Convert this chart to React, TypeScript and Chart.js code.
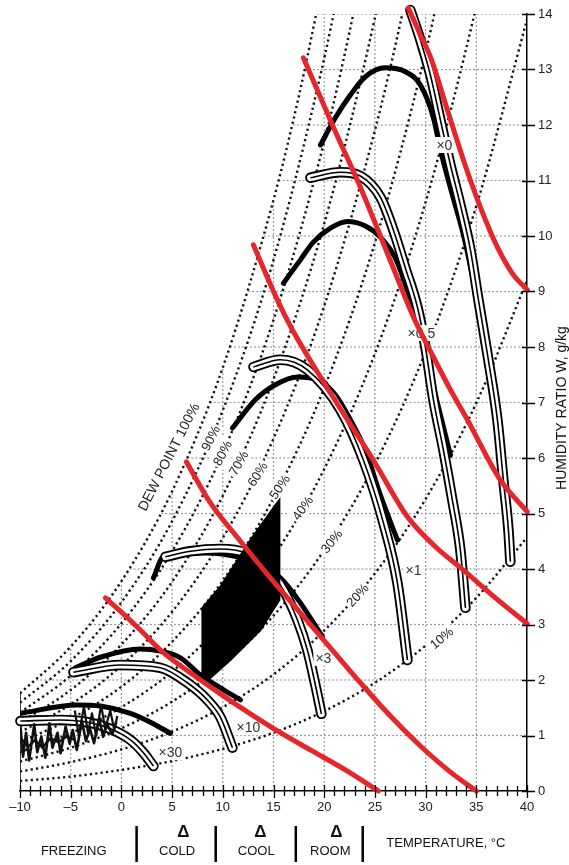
import React, { useEffect, useRef } from 'react';
import { Chart, registerables } from 'chart.js';

Chart.register(...registerables);

type P = [number, number];

// ---------- axes ----------
const X_MIN = -10;
const X_MAX = 40;
const Y_MIN = 0;
const Y_MAX = 14;

// ---------- grid (clipped by the saturation curve) ----------
const GRID_V_T = [-5, 0, 5, 10, 15, 20, 25, 30, 35];
const GRID_V_TOP = [2.6, 3.78, 5.4, 7.63, 10.65, 14, 14, 14, 14];
const GRID_H_W = [1, 2, 3, 4, 5, 6, 7, 8, 9, 10, 11, 12, 13, 14];
const GRID_H_START = [-10, -8.4, -3.1, 0.8, 3.9, 6.5, 8.7, 10.7, 12.5, 14.05, 15.5, 16.9, 18.1, 19.3];
const LEFT_EDGE: P[] = [[-10, 0], [-10, 1.76]];

// ---------- relative humidity curves ----------
const RH100: P[] = [[-10, 1.76], [-5, 2.6], [0, 3.78], [5, 5.4], [10, 7.63], [15, 10.65], [17.5, 12.52], [20, 14.7]];
const RH90: P[] = [[-10, 1.59], [-5, 2.34], [0, 3.4], [5, 4.86], [10, 6.86], [15, 9.57], [20, 13.2], [22.5, 15.44]];
const RH80: P[] = [[-10, 1.41], [-5, 2.08], [0, 3.02], [5, 4.32], [10, 6.09], [15, 8.49], [20, 11.7], [22.5, 13.68], [25, 15.97]];
const RH70: P[] = [[-10, 1.23], [-5, 1.82], [0, 2.64], [5, 3.77], [10, 5.32], [15, 7.42], [20, 10.22], [25, 13.93], [27.5, 16.2]];
const RH60: P[] = [[-10, 1.06], [-5, 1.56], [0, 2.26], [5, 3.23], [10, 4.56], [15, 6.35], [20, 8.74], [25, 11.9], [27.5, 13.83], [30, 16.05]];
const RH50: P[] = [[-10, 0.88], [-5, 1.3], [0, 1.88], [5, 2.69], [10, 3.79], [15, 5.28], [20, 7.26], [25, 9.88], [30, 13.31], [32.5, 15.39]];
const RH40: P[] = [[-10, 0.7], [-5, 1.04], [0, 1.51], [5, 2.15], [10, 3.03], [15, 4.22], [20, 5.8], [25, 7.88], [30, 10.61], [35, 14.14], [37.5, 16.26]];
const RH30: P[] = [[-10, 0.53], [-5, 0.78], [0, 1.13], [5, 1.61], [10, 2.27], [15, 3.16], [20, 4.34], [25, 5.89], [30, 7.92], [35, 10.54], [40, 13.9]];
const RH20: P[] = [[-10, 0.35], [-5, 0.52], [0, 0.75], [5, 1.07], [10, 1.51], [15, 2.1], [20, 2.89], [25, 3.92], [30, 5.26], [35, 6.99], [40, 9.2]];
const RH10: P[] = [[-10, 0.18], [-5, 0.26], [0, 0.38], [5, 0.54], [10, 0.76], [15, 1.05], [20, 1.44], [25, 1.95], [30, 2.62], [35, 3.48], [40, 4.57]];
const RH_CURVES = [RH100, RH90, RH80, RH70, RH60, RH50, RH40, RH30, RH20, RH10];

const RH_LABELS = ['DEW POINT 100%', '90%', '80%', '70%', '60%', '50%', '40%', '30%', '20%', '10%'];
const RH_LABEL_T = [4.64, 8.78, 9.96, 11.54, 13.41, 15.58, 17.85, 20.71, 23.27, 31.56];
const RH_LABEL_W = [6.02, 6.36, 6.09, 5.91, 5.71, 5.48, 5.1, 4.5, 3.53, 2.76];
const RH_LABEL_ANGLE = [-63, -63, -62, -60, -58, -55, -54, -52, -48, -40];

// ---------- black arcs ----------
const ARC_30: P[] = [[-9.96, 1.4], [-4.34, 1.55], [-2.07, 1.53], [0.89, 1.4], [2.86, 1.24], [4.83, 1.04]];
const ARC_10: P[] = [[-4.54, 2.22], [-2.07, 2.41], [1.87, 2.56], [3.85, 2.52], [5.82, 2.4], [7.79, 2.09], [9.76, 1.86], [11.74, 1.64]];
const ARC_3: P[] = [[3.16, 3.84], [4.14, 4.22], [8.48, 4.29], [11.44, 4.22], [13.71, 4.07], [15.68, 3.84], [17.65, 3.39], [19.82, 2.78]];
const ARC_1: P[] = [[10.95, 6.54], [13.21, 7.05], [15.19, 7.32], [17.36, 7.46], [19.33, 7.41], [21.1, 7.14], [22.58, 6.69], [24.06, 6.14], [25.54, 5.33], [27.22, 4.52]];
const ARC_05: P[] = [[15.98, 9.15], [17.65, 9.57], [18.93, 9.89], [20.61, 10.14], [22.29, 10.26], [24.06, 10.18], [25.54, 9.98], [27.02, 9.6], [28.5, 8.85], [29.49, 8.22], [30.97, 7.14], [32.45, 6.05]];
const ARC_0: P[] = [[19.63, 11.64], [21.1, 12.13], [22.58, 12.54], [24.06, 12.87], [26.04, 13.03], [28.01, 12.96], [29.49, 12.72], [30.77, 12.13], [31.46, 11.55], [32.64, 10.74], [33.73, 10.02], [35.11, 8.85], [36.39, 7.68]];
const ARCS = [ARC_30, ARC_10, ARC_3, ARC_1, ARC_05, ARC_0];

// ---------- tubes ----------
const TUBE_30: P[] = [[-9.96, 1.26], [-6.02, 1.28], [-3.06, 1.23], [-1.08, 1.12], [0.89, 0.92], [2.17, 0.69], [3.16, 0.45]];
const TUBE_10: P[] = [[-4.73, 2.14], [-0.1, 2.27], [3.85, 2.22], [6.51, 1.95], [8.48, 1.64], [9.76, 1.33], [10.95, 0.78]];
const TUBE_3: P[] = [[4.34, 4.22], [6.8, 4.32], [9.76, 4.36], [12.23, 4.29], [14.2, 4.04], [15.98, 3.62], [17.36, 3.08], [18.34, 2.54], [19.13, 1.91], [19.72, 1.39]];
const TUBE_1: P[] = [[13.02, 7.64], [15.68, 7.77], [18.34, 7.59], [21.6, 6.87], [23.87, 5.96], [25.84, 4.83], [27.22, 3.75], [28.21, 2.36]];
const TUBE_05: P[] = [[18.64, 11.05], [21.6, 11.15], [23.57, 11.08], [25.54, 10.7], [26.82, 10.11], [28.01, 9.42], [29.19, 8.72], [29.98, 8.0], [30.77, 7.05], [31.76, 6.14], [32.64, 5.24], [33.43, 4.34], [33.93, 3.3]];
const TUBE_0: P[] = [[28.5, 14.07], [29.49, 13.53], [30.47, 12.9], [31.46, 12.09], [32.45, 11.28], [33.43, 10.56], [34.42, 9.75], [35.21, 8.85], [36.19, 7.77], [37.08, 6.69], [37.67, 5.6], [38.17, 4.7], [38.36, 4.13]];
const TUBES = [TUBE_30, TUBE_10, TUBE_3, TUBE_1, TUBE_05, TUBE_0];

const MULT_LABELS = ['×30', '×10', '×3', '×1', '×0.5', '×0'];
const MULT_T = [4.83, 12.52, 19.92, 28.8, 29.59, 31.85];
const MULT_W = [0.7, 1.15, 2.4, 3.98, 8.25, 11.64];

// ---------- filled region and scribble ----------
const DIAMOND: P[] = [[7.99, 3.3], [9.76, 3.68], [12.72, 4.52], [15.19, 5.15], [15.58, 5.24], [15.58, 3.44], [13.71, 2.9], [10.75, 2.36], [8.78, 2.04], [7.99, 2.09], [7.99, 3.3]];
const SCRIBBLE_A: P[] = [[-9.96, 1.18], [-9.7, 0.62], [-9.4, 1.05], [-9.1, 0.55], [-8.6, 1.2], [-8.3, 0.7], [-7.9, 0.98], [-7.5, 0.6], [-7.1, 1.22], [-6.8, 0.78], [-6.3, 1.05], [-6.0, 0.68], [-5.5, 1.16], [-5.1, 0.85], [-4.8, 1.1], [-4.4, 0.74], [-3.9, 1.27], [-3.5, 0.9], [-3.1, 1.12], [-2.7, 0.86], [-2.2, 1.3], [-1.8, 0.98], [-1.4, 1.2], [-0.9, 1.02], [-0.5, 1.25]];
const SCRIBBLE_B: P[] = [[-4.6, 1.45], [-4.2, 1.0], [-3.7, 1.52], [-3.3, 1.05], [-2.9, 1.4], [-2.5, 1.0], [-2.0, 1.55], [-1.6, 1.12], [-1.1, 1.45], [-0.7, 1.1], [-0.4, 1.35]];
const SCRIBBLE_C: P[] = [[-9.9, 0.95], [-9.2, 0.8], [-8.5, 0.92], [-7.8, 0.78], [-7.0, 0.95], [-6.2, 0.88], [-5.4, 0.98], [-4.6, 0.92]];

// ---------- red curves ----------
const RED_1: P[] = [[-1.58, 3.48], [-0.1, 3.24], [1.87, 2.9], [3.85, 2.54], [6.8, 2.13], [9.76, 1.75], [12.72, 1.39], [15.68, 1.05], [18.64, 0.74], [22.09, 0.38], [25.35, 0]];
const RED_2: P[] = [[6.41, 5.93], [8.78, 5.19], [11.74, 4.5], [14.69, 3.84], [17.65, 3.21], [20.61, 2.58], [23.57, 1.95], [26.53, 1.35], [29.49, 0.81], [32.45, 0.34], [35.01, 0]];
const RED_3: P[] = [[13.02, 9.84], [15.38, 8.85], [16.86, 8.31], [19.63, 7.46], [22.29, 6.69], [24.85, 5.96], [28.21, 4.94], [30.97, 4.4], [33.73, 3.98], [36.88, 3.48], [40.04, 3.01]];
const RED_4: P[] = [[17.95, 13.21], [20.91, 11.96], [23.57, 10.88], [26.23, 9.69], [28.8, 8.54], [30.77, 7.82], [32.45, 7.23], [34.12, 6.69], [37.38, 5.6], [40.04, 5.03]];
const RED_5: P[] = [[28.3, 14.11], [29.49, 13.62], [30.47, 13.23], [32.15, 12.27], [33.73, 11.37], [35.4, 10.52], [37.08, 9.8], [38.66, 9.3], [40.04, 9.03]];
const REDS = [RED_1, RED_2, RED_3, RED_4, RED_5];

// ---------- bottom annotations ----------
const BAND_EDGES = [1.5, 9.3, 17.2, 23.8];
const BAND_NAMES = ['FREEZING', 'COLD', 'COOL', 'ROOM'];
const BAND_NAME_T = [-4.7, 5.5, 13.3, 20.6];
const BAND_DELTA_T = [6.1, 13.7, 21.2];
const AXIS_TITLE_X = 'TEMPERATURE, °C';
const AXIS_TITLE_X_T = 32;
const AXIS_TITLE_Y = 'HUMIDITY RATIO W, g/kg';
const AXIS_TITLE_Y_W = 6.9;

const FONT = "'Liberation Sans', Arial, Helvetica, sans-serif";

function mk(points: P[], extra: any) {
  return {
    data: points.map(([x, y]) => ({ x, y })),
    showLine: true,
    pointRadius: 0,
    pointHoverRadius: 0,
    pointHitRadius: 0,
    fill: false,
    tension: 0,
    ...extra,
  };
}

function drawText(ctx: CanvasRenderingContext2D, text: string, x: number, y: number, angle: number, font: string, bg: boolean, color = '#222') {
  ctx.save();
  ctx.translate(x, y);
  ctx.rotate((angle * Math.PI) / 180);
  ctx.font = font;
  const w = ctx.measureText(text).width;
  if (bg) {
    ctx.fillStyle = '#fff';
    ctx.fillRect(-w / 2 - 2, -8, w + 4, 16);
  }
  ctx.fillStyle = color;
  ctx.textAlign = 'center';
  ctx.textBaseline = 'middle';
  ctx.fillText(text, 0, 1);
  ctx.restore();
}

function drawRhLabels(chart: any) {
  const { ctx } = chart;
  const xs = chart.scales.x;
  const ys = chart.scales.y;
  RH_LABELS.forEach((t, i) => {
    const px = xs.getPixelForValue(RH_LABEL_T[i]);
    const py = ys.getPixelForValue(RH_LABEL_W[i]);
    drawText(ctx, t, px, py, RH_LABEL_ANGLE[i], `${i === 0 ? 14 : 13}px ${FONT}`, i !== 0);
  });
}

function drawMultLabels(chart: any) {
  const { ctx } = chart;
  const xs = chart.scales.x;
  const ys = chart.scales.y;
  MULT_LABELS.forEach((t, i) => {
    drawText(ctx, t, xs.getPixelForValue(MULT_T[i]), ys.getPixelForValue(MULT_W[i]), 0, `14px ${FONT}`, true, '#333');
  });
}

const layerPlugin = {
  id: 'layers',
  beforeDatasetsDraw(chart: any) {
    chart.$layerState = { rh: false, mult: false };
  },
  beforeDatasetDraw(chart: any, args: any) {
    const ds: any = chart.data.datasets[args.index];
    const st = chart.$layerState;
    if (ds.layer === 'fig' && !st.rh) {
      st.rh = true;
      drawRhLabels(chart);
    }
    if (ds.layer === 'red' && !st.mult) {
      st.mult = true;
      drawMultLabels(chart);
    }
  },
  afterDraw(chart: any) {
    const { ctx, chartArea } = chart;
    const xs = chart.scales.x;
    const ys = chart.scales.y;
    const bottom = chartArea.bottom;
    const right = chartArea.right;
    ctx.save();
    ctx.strokeStyle = '#000';
    ctx.lineWidth = 1.3;
    ctx.beginPath();
    for (let t = X_MIN; t <= X_MAX; t++) {
      const px = Math.round(xs.getPixelForValue(t)) + 0.5;
      const major = t % 5 === 0;
      ctx.moveTo(px, bottom - (major ? 6 : 5));
      ctx.lineTo(px, bottom + (major ? 7 : 5));
    }
    for (let w = Y_MIN; w <= Y_MAX; w++) {
      const py = Math.round(ys.getPixelForValue(w)) + 0.5;
      ctx.moveTo(right - 5, py);
      ctx.lineTo(right + 8, py);
    }
    ctx.stroke();

    // band separators
    ctx.lineWidth = 2.5;
    ctx.beginPath();
    BAND_EDGES.forEach((t) => {
      const px = xs.getPixelForValue(t);
      ctx.moveTo(px, bottom + 35);
      ctx.lineTo(px, bottom + 71);
    });
    ctx.stroke();

    ctx.fillStyle = '#111';
    ctx.textAlign = 'center';
    ctx.textBaseline = 'middle';
    ctx.font = `13px ${FONT}`;
    BAND_NAMES.forEach((n, i) => {
      ctx.fillText(n, xs.getPixelForValue(BAND_NAME_T[i]), bottom + 60);
    });
    ctx.font = `bold 17px ${FONT}`;
    BAND_DELTA_T.forEach((t) => {
      ctx.fillText('Δ', xs.getPixelForValue(t), bottom + 41);
    });
    ctx.font = `13px ${FONT}`;
    ctx.fillText(AXIS_TITLE_X, xs.getPixelForValue(AXIS_TITLE_X_T), bottom + 52);

    // right axis title
    ctx.translate(right + 35, ys.getPixelForValue(AXIS_TITLE_Y_W));
    ctx.rotate(-Math.PI / 2);
    ctx.font = `14px ${FONT}`;
    ctx.fillText(AXIS_TITLE_Y, 0, 0);
    ctx.restore();
  },
};

function buildDatasets() {
  const ds: any[] = [];
  GRID_V_T.forEach((t, i) => {
    ds.push(mk([[t, 0], [t, GRID_V_TOP[i]]], { borderColor: '#9a9a9a', borderWidth: 1.2, borderDash: [2, 2], order: 100, layer: 'grid' }));
  });
  GRID_H_W.forEach((w, i) => {
    ds.push(mk([[GRID_H_START[i], w], [X_MAX, w]], { borderColor: '#9a9a9a', borderWidth: 1.2, borderDash: [2, 2], order: 100, layer: 'grid' }));
  });
  ds.push(mk(LEFT_EDGE, { borderColor: '#000', borderWidth: 1.5, order: 95, layer: 'grid' }));
  RH_CURVES.forEach((c) => {
    ds.push(mk(c, { borderColor: '#111', borderWidth: 2.4, borderDash: [2.2, 3.2], cubicInterpolationMode: 'monotone', order: 90, layer: 'rh' }));
  });
  ARCS.forEach((c) => {
    ds.push(mk(c, { borderColor: '#000', borderWidth: 5, borderCapStyle: 'round', borderJoinStyle: 'round', cubicInterpolationMode: 'monotone', order: 60, layer: 'fig' }));
  });
  TUBES.forEach((c) => {
    ds.push(mk(c, { borderColor: '#000', borderWidth: 10.5, borderCapStyle: 'round', borderJoinStyle: 'round', cubicInterpolationMode: 'monotone', order: 52, layer: 'fig', clip: 10 }));
    ds.push(mk(c, { borderColor: '#fff', borderWidth: 6.8, borderCapStyle: 'round', borderJoinStyle: 'round', cubicInterpolationMode: 'monotone', order: 51, layer: 'fig', clip: 10 }));
    ds.push(mk(c, { borderColor: '#000', borderWidth: 1.6, borderCapStyle: 'butt', borderJoinStyle: 'round', cubicInterpolationMode: 'monotone', order: 50, layer: 'fig', clip: 10 }));
  });
  ds.push(mk(DIAMOND, { borderColor: '#000', backgroundColor: '#000', borderWidth: 2, fill: 'shape', order: 40, layer: 'fig' }));
  ds.push(mk(SCRIBBLE_A, { borderColor: '#111', borderWidth: 2.6, borderJoinStyle: 'round', order: 40, layer: 'fig' }));
  ds.push(mk(SCRIBBLE_B, { borderColor: '#111', borderWidth: 2.2, borderJoinStyle: 'round', order: 40, layer: 'fig' }));
  ds.push(mk(SCRIBBLE_C, { borderColor: '#111', borderWidth: 2.4, borderJoinStyle: 'round', order: 40, layer: 'fig' }));
  REDS.forEach((c) => {
    ds.push(mk(c, { borderColor: '#e5262b', borderWidth: 5, borderCapStyle: 'round', cubicInterpolationMode: 'monotone', order: 1, layer: 'red', clip: 10 }));
  });
  return ds;
}

export default function App() {
  const ref = useRef<HTMLCanvasElement | null>(null);
  useEffect(() => {
    if (!ref.current) return;
    Chart.defaults.font.family = FONT;
    const chart = new Chart(ref.current, {
      type: 'scatter',
      data: { datasets: buildDatasets() },
      options: {
        animation: false,
        responsive: false,
        events: [],
        layout: { padding: { left: 20, top: 14, right: 0, bottom: 0 } },
        plugins: { legend: { display: false }, tooltip: { enabled: false } },
        scales: {
          x: {
            type: 'linear',
            position: 'bottom',
            min: X_MIN,
            max: X_MAX,
            afterFit: (s: any) => { s.height = 74; },
            border: { display: true, color: '#000', width: 1.5 },
            grid: { display: true, drawOnChartArea: false, drawTicks: true, tickLength: 6, tickColor: 'rgba(0,0,0,0)' },
            ticks: {
              stepSize: 5,
              padding: 3,
              maxRotation: 0,
              autoSkip: false,
              color: '#222',
              font: { size: 13, family: FONT },
              callback: (v: any) => (Number(v) < 0 ? '–' + Math.abs(Number(v)) : String(v)),
            },
          },
          y: {
            type: 'linear',
            position: 'right',
            min: Y_MIN,
            max: Y_MAX,
            afterFit: (s: any) => { s.width = 42; },
            border: { display: true, color: '#000', width: 1.5 },
            grid: { display: true, drawOnChartArea: false, drawTicks: true, tickLength: 9, tickColor: 'rgba(0,0,0,0)' },
            ticks: { stepSize: 1, padding: 2, color: '#222', font: { size: 13, family: FONT } },
          },
        },
      } as any,
      plugins: [layerPlugin as any],
    });
    return () => chart.destroy();
  }, []);
  return (
    <div style={{ position: 'absolute', left: 0, top: 0, width: 569, height: 865, background: '#fff' }}>
      <canvas ref={ref} width={569} height={865} style={{ display: 'block' }} />
    </div>
  );
}
